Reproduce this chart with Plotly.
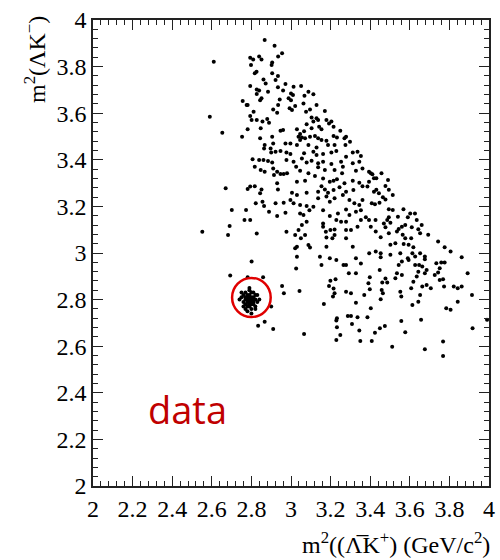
import plotly.graph_objects as go

# ---------------- data (GeV^2/c^4) ----------------
# upper part of the Dalitz band
xa = [2.867,2.917,2.955,2.935,2.794,2.809,2.839,2.851,2.798,2.905,
      2.902,2.826,2.817,2.905,2.934,2.861,2.872,2.922,2.794,2.827,
      2.839,2.884,2.972,2.934,2.960,3.013,3.051,3.000,3.010,3.088,
      3.113,2.827,2.851,2.844,2.943,2.988,3.000,3.068,3.063,3.129,
      2.781,2.935,2.993,3.005,3.021,2.910,2.930,2.811,2.794,2.801,
      2.827,2.856,2.880,2.889,3.096,3.076,3.171,3.104,3.129,3.137,
      3.113,3.079,3.179,3.204,3.192,3.215,3.142,3.154,3.104,3.066,
      3.030,2.847,2.781,2.947,2.960,3.046,3.038,3.046,3.055,3.096,
      3.071,3.121,3.137,3.154,3.179,3.215,3.232,3.249,3.270,3.278,
      3.298,3.275,3.220,3.187,3.129,3.088,3.030,2.997,2.972,2.905,
      2.910,2.867,2.844,2.864,2.897]
ya = [3.914,3.890,3.857,3.843,3.838,3.831,3.843,3.831,3.807,3.818,
      3.807,3.778,3.771,3.771,3.760,3.745,3.728,3.742,3.717,3.702,
      3.697,3.692,3.725,3.711,3.697,3.714,3.717,3.685,3.678,3.692,
      3.681,3.682,3.664,3.656,3.659,3.664,3.656,3.675,3.642,3.635,
      3.635,3.635,3.621,3.614,3.631,3.616,3.602,3.606,3.588,3.571,
      3.571,3.564,3.575,3.559,3.616,3.606,3.609,3.582,3.578,3.571,
      3.564,3.553,3.571,3.564,3.556,3.542,3.542,3.531,3.535,3.523,
      3.531,3.535,3.531,3.525,3.528,3.511,3.499,3.485,3.496,3.499,
      3.492,3.502,3.492,3.485,3.482,3.502,3.496,3.525,3.492,3.499,
      3.478,3.463,3.463,3.463,3.453,3.463,3.463,3.470,3.470,3.499,
      3.470,3.463,3.492,3.449,3.449]

# middle part of the band
xb = [2.900,2.922,2.947,2.977,2.997,3.066,3.113,3.129,3.162,3.204,3.229,3.278,3.312,3.336,3.353,
      2.806,2.839,2.861,2.884,2.905,2.977,3.013,3.055,3.079,3.104,3.137,3.162,3.204,3.253,3.262,3.312,3.345,
      2.817,2.847,2.867,2.910,2.930,2.947,2.980,3.026,3.046,3.088,3.137,3.171,3.220,3.258,3.328,3.361,
      2.914,2.963,3.030,3.071,3.121,3.162,3.196,3.215,3.232,3.270,3.312,3.345,
      2.794,2.817,2.851,2.844,2.930,2.934,3.005,3.030,3.079,3.137,3.154,3.171,3.187,3.215,3.245,3.278,3.315,3.361,
      2.822,2.856,2.864,2.889,2.922,2.963,2.997,3.013,3.046,3.079,3.093,3.113,3.137,3.179,3.196,3.220,3.262,3.295,3.320,3.345,3.361,
      2.794,2.930,2.972,3.046,3.063,3.162,3.196,3.237,3.278,3.295,3.328,3.353,
      3.229,3.253,3.278,3.162,3.079,3.055,3.038,3.021,3.050,3.071,3.162,3.176,3.199,3.220,3.278,3.303,3.336,3.353,
      2.827,2.977,3.179,3.209,3.220,3.278,3.088,3.030,3.021,3.096,3.179,3.312,
      3.146,3.196,3.229,3.265,3.328,3.353,2.801,3.030,3.026,3.154,3.278]
yb = [3.431,3.435,3.438,3.431,3.425,3.428,3.435,3.421,3.425,3.431,3.438,3.413,3.431,3.435,3.416,
      3.402,3.399,3.399,3.395,3.388,3.399,3.392,3.406,3.388,3.396,3.385,3.392,3.382,3.392,3.370,3.385,3.392,
      3.370,3.356,3.349,3.363,3.349,3.339,3.342,3.370,3.353,3.342,3.368,3.356,3.356,3.342,3.353,3.363,
      3.335,3.339,3.306,3.310,3.330,3.320,3.306,3.310,3.316,3.299,3.310,3.302,
      3.285,3.287,3.273,3.256,3.299,3.273,3.259,3.249,3.259,3.263,3.287,3.273,3.259,3.270,3.282,3.263,3.270,3.287,
      3.213,3.220,3.202,3.177,3.213,3.216,3.227,3.213,3.206,3.202,3.184,3.199,3.235,3.242,3.220,3.235,3.249,3.227,3.213,3.206,3.227,
      3.142,3.159,3.173,3.170,3.163,3.184,3.159,3.170,3.187,3.163,3.177,3.184,
      3.142,3.134,3.134,3.127,3.134,3.120,3.099,3.077,3.063,3.077,3.113,3.091,3.099,3.101,3.099,3.099,3.113,3.142,
      3.084,3.091,3.067,3.063,3.077,3.063,3.034,3.027,3.020,3.024,3.027,3.027,
      2.984,2.977,2.970,2.948,2.977,2.955,2.963,2.984,2.934,2.948,2.948]

# sparse events on the left / low side
xc = [2.610,2.590,2.653,2.753,2.756,2.776,2.670,2.701,2.690,2.682,2.552,2.773,2.765,
      2.781,2.693,2.781,2.859,2.900,2.955,2.964,3.043,2.834,2.867,2.910,3.066]
yc = [3.821,3.585,3.516,3.499,3.652,3.635,3.278,3.185,3.116,3.077,3.091,3.185,3.142,
      3.275,2.903,2.896,2.896,2.770,2.858,2.827,2.837,2.688,2.705,2.674,2.652]

# lower part of the band
xd = [3.166,3.192,3.215,3.199,3.225,3.212,3.220,3.278,3.303,3.328,
      3.370,3.292,3.328,3.398,3.391,3.398,3.458,3.464,3.453,3.461,
      3.486,3.477,3.448,3.403,3.232,3.229,3.287,3.303,3.336,3.386,
      3.308,3.232,3.249,3.229,3.345,3.350,3.408,3.424,3.449,3.474,
      3.511]
yd = [2.781,2.858,2.848,2.881,2.887,2.813,2.827,2.834,2.827,2.787,
      2.820,2.913,2.913,2.896,2.870,2.844,2.841,2.827,2.801,2.873,
      2.873,2.891,2.927,2.763,2.720,2.710,2.730,2.730,2.724,2.724,
      2.695,2.681,2.648,2.627,2.667,2.622,2.622,2.658,2.677,2.687,
      2.598]

# right edge of the band
xe = [3.394,3.403,3.411,3.431,3.419,3.457,3.490,3.477,3.494,3.394,
      3.386,3.419,3.431,3.444,3.464,3.477,3.447,3.424,3.408,3.514,
      3.514,3.494,3.568,3.602,3.626,3.590,3.635,3.660,3.540,3.494,
      3.486,3.502,3.469,3.427,3.394,3.378,3.403,3.477,3.560,3.577,
      3.544,3.610,3.643]
ye = [3.349,3.342,3.338,3.321,3.321,3.342,3.313,3.288,3.271,3.306,
      3.285,3.263,3.271,3.256,3.239,3.230,3.216,3.209,3.213,3.249,
      3.185,3.188,3.188,3.170,3.170,3.153,3.142,3.120,3.156,3.153,
      3.142,3.130,3.127,3.142,3.142,3.153,3.113,3.110,3.113,3.120,
      3.103,3.110,3.102]

# tail of the band towards large m2(Lbar K+)
xf = [3.428,3.453,3.494,3.535,3.564,3.577,3.607,3.652,3.693,3.502,
      3.527,3.569,3.594,3.618,3.743,3.776,3.806,3.613,3.627,3.652,
      3.676,3.395,3.428,3.453,3.453,3.502,3.552,3.590,3.862,3.676,
      3.544,3.560,3.594,3.627,3.647,3.663,3.685,3.676,3.643,3.635,
      3.618,3.560,3.535,3.527,3.734,3.759,3.776,3.751,3.743,3.726,
      3.751,3.768,3.773,3.822,3.842,3.862,3.892,3.914,3.842,3.784,
      3.806,3.685,3.706,3.663,3.652,3.643,3.613,3.607,3.557,3.552,
      3.557,3.577,3.657,3.676,3.768,3.768,3.917,3.990]
yf = [3.092,3.068,3.085,3.092,3.078,3.063,3.063,3.085,3.078,3.035,
      3.042,3.039,3.035,3.025,3.049,3.025,3.006,2.999,2.985,2.999,
      2.985,2.999,3.006,2.999,2.982,2.992,2.999,2.977,2.982,2.973,
      2.949,2.963,2.970,2.949,2.949,2.942,2.927,2.913,2.920,2.899,
      2.877,2.906,2.913,2.892,2.956,2.959,2.959,2.935,2.916,2.906,
      2.884,2.887,2.856,2.856,2.849,2.856,2.913,2.820,2.791,2.763,
      2.756,2.863,2.849,2.856,2.820,2.791,2.777,2.849,2.813,2.834,
      2.708,2.660,2.713,2.587,2.620,2.558,2.677,2.713]

# narrow peak (circled)
x_peak = [2.79,2.78,2.80,2.77,2.81,2.79,2.76,2.82,2.78,2.80,2.79,2.77,2.81,2.83,2.75,2.79,
          2.80,2.78,2.82,2.76,2.79,2.81,2.78,2.80,2.77,2.79,2.84,2.74,2.80,2.78,2.79,2.81,
          2.77,2.80,2.82,2.78,2.76,2.79,2.80,2.81,2.78,2.79,2.83,2.77,2.80,2.79,2.75,2.82]
y_peak = [2.80,2.79,2.81,2.80,2.78,2.82,2.79,2.80,2.77,2.83,2.78,2.81,2.80,2.79,2.81,2.84,
          2.76,2.80,2.82,2.77,2.79,2.83,2.82,2.78,2.76,2.81,2.80,2.80,2.80,2.75,2.77,2.81,
          2.83,2.79,2.77,2.80,2.82,2.85,2.74,2.79,2.81,2.78,2.82,2.78,2.80,2.80,2.83,2.76]

circle_center = (2.800, 2.809)
circle_radius = (0.0975, 0.084)
label_pos = (2.478, 2.330)

x_all = xa + xb + xc + xd + xe + xf + x_peak
y_all = ya + yb + yc + yd + ye + yf + y_peak

# ---------------- figure ----------------
fig = go.Figure()
fig.add_trace(go.Scatter(
    x=x_all, y=y_all, mode="markers",
    marker=dict(color="black", size=4, line=dict(width=0)),
    hoverinfo="x+y", showlegend=False))

serif = "Liberation Serif, Times New Roman, serif"
axis_common = dict(
    range=[2, 4], tick0=2, dtick=0.2, ticks="inside", ticklen=10, tickwidth=1,
    tickcolor="#222", showline=True, linecolor="#222", linewidth=1.5,
    mirror="allticks", showgrid=False, zeroline=False,
    tickfont=dict(family=serif, size=24, color="black"),
    minor=dict(ticks="inside", dtick=0.04, ticklen=5, tickwidth=1,
               tickcolor="#222", showgrid=False),
)
fig.update_xaxes(**axis_common)
fig.update_yaxes(**axis_common)

fig.add_shape(type="circle", xref="x", yref="y",
              x0=circle_center[0] - circle_radius[0], x1=circle_center[0] + circle_radius[0],
              y0=circle_center[1] - circle_radius[1], y1=circle_center[1] + circle_radius[1],
              line=dict(color="#e00000", width=2.5))

fig.add_annotation(x=label_pos[0], y=label_pos[1], xref="x", yref="y",
                   text="data", showarrow=False,
                   font=dict(family="Open Sans, sans-serif", size=38, color="#c00000"))

fig.add_annotation(xref="paper", yref="paper", x=-0.145, y=1.013,
                   xanchor="center", yanchor="top", textangle=-90,
                   text="m<sup>2</sup>(ΛK<sup>−</sup>)", showarrow=False,
                   font=dict(family=serif, size=24, color="black"))

fig.add_annotation(xref="paper", yref="paper", x=1.008, y=-0.122,
                   xanchor="right", yanchor="middle",
                   text="m<sup>2</sup>((Λ\u0305K<sup>+</sup>) (GeV/c<sup>2</sup>)",
                   showarrow=False,
                   font=dict(family=serif, size=24, color="black"))

fig.update_layout(
    width=500, height=560,
    margin=dict(l=93, r=5, t=20, b=74),
    plot_bgcolor="white", paper_bgcolor="white",
)

fig.write_html("out.html")
